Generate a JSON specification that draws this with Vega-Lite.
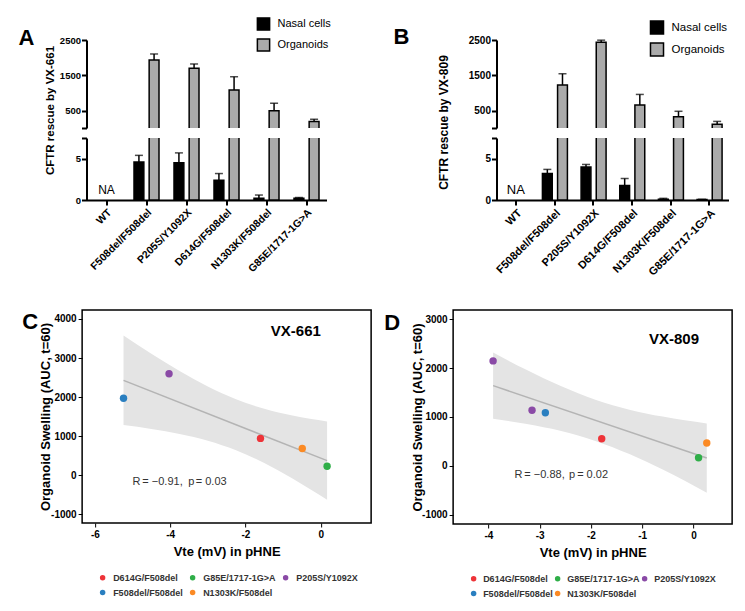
{
  "$schema": "https://vega.github.io/schema/vega-lite/v6.json",
  "background": "white",
  "padding": {"left": 18, "top": 17, "right": 5, "bottom": 5},
  "config": {
    "font": "Liberation Sans",
    "view": {"stroke": null},
    "axis": {"grid": false, "labelColor": "black", "titleColor": "black", "domainColor": "black", "tickColor": "black", "labelOverlap": false, "tickCount": 20}
  },
  "datasets": {
    "barsA": [
      {"genotype": "WT", "group": "Nasal cells", "value": null, "hi": null, "note": "NA"},
      {"genotype": "WT", "group": "Organoids", "value": null, "hi": null},
      {"genotype": "F508del/F508del", "group": "Nasal cells", "value": 4.6, "hi": 5.4},
      {"genotype": "F508del/F508del", "group": "Organoids", "value": 1937, "hi": 2106},
      {"genotype": "P205S/Y1092X", "group": "Nasal cells", "value": 4.5, "hi": 5.7},
      {"genotype": "P205S/Y1092X", "group": "Organoids", "value": 1702, "hi": 1824},
      {"genotype": "D614G/F508del", "group": "Nasal cells", "value": 2.4, "hi": 3.2},
      {"genotype": "D614G/F508del", "group": "Organoids", "value": 1092, "hi": 1465},
      {"genotype": "N1303K/F508del", "group": "Nasal cells", "value": 0.2, "hi": 0.6},
      {"genotype": "N1303K/F508del", "group": "Organoids", "value": 509, "hi": 718},
      {"genotype": "G85E/1717-1G>A", "group": "Nasal cells", "value": 0.2, "hi": 0.3},
      {"genotype": "G85E/1717-1G>A", "group": "Organoids", "value": 200, "hi": 266}
    ],
    "barsB": [
      {"genotype": "WT", "group": "Nasal cells", "value": null, "hi": null, "note": "NA"},
      {"genotype": "WT", "group": "Organoids", "value": null, "hi": null},
      {"genotype": "F508del/F508del", "group": "Nasal cells", "value": 3.2, "hi": 3.7},
      {"genotype": "F508del/F508del", "group": "Organoids", "value": 1234, "hi": 1549},
      {"genotype": "P205S/Y1092X", "group": "Nasal cells", "value": 4.0, "hi": 4.3},
      {"genotype": "P205S/Y1092X", "group": "Organoids", "value": 2434, "hi": 2495},
      {"genotype": "D614G/F508del", "group": "Nasal cells", "value": 1.76, "hi": 2.6},
      {"genotype": "D614G/F508del", "group": "Organoids", "value": 671, "hi": 966},
      {"genotype": "N1303K/F508del", "group": "Nasal cells", "value": 0.1, "hi": 0.2},
      {"genotype": "N1303K/F508del", "group": "Organoids", "value": 337, "hi": 491},
      {"genotype": "G85E/1717-1G>A", "group": "Nasal cells", "value": 0.05, "hi": 0.08},
      {"genotype": "G85E/1717-1G>A", "group": "Organoids", "value": 129, "hi": 206}
    ],
    "ptsC": [
      {"genotype": "F508del/F508del", "vte": -5.24, "swelling": 1970},
      {"genotype": "P205S/Y1092X", "vte": -4.03, "swelling": 2600},
      {"genotype": "D614G/F508del", "vte": -1.6, "swelling": 945},
      {"genotype": "N1303K/F508del", "vte": -0.49, "swelling": 685},
      {"genotype": "G85E/1717-1G>A", "vte": 0.17, "swelling": 230}
    ],
    "ptsD": [
      {"genotype": "P205S/Y1092X", "vte": -3.91, "swelling": 2148},
      {"genotype": "P205S/Y1092X", "vte": -3.15, "swelling": 1136},
      {"genotype": "F508del/F508del", "vte": -2.89, "swelling": 1087},
      {"genotype": "D614G/F508del", "vte": -1.79, "swelling": 554},
      {"genotype": "G85E/1717-1G>A", "vte": 0.1, "swelling": 164},
      {"genotype": "N1303K/F508del", "vte": 0.26, "swelling": 466}
    ],
    "fitC": [{"vte": -5.24, "swelling": 2430}, {"vte": 0.17, "swelling": 375}],
    "fitD": [{"vte": -3.91, "swelling": 1642}, {"vte": 0.26, "swelling": 158}],
    "bandC": [
      {"vte": -5.24, "lo": 1285, "hi": 3575},
      {"vte": -4.5, "lo": 1186, "hi": 3112},
      {"vte": -3.75, "lo": 1058, "hi": 2670},
      {"vte": -3.0, "lo": 885, "hi": 2273},
      {"vte": -2.25, "lo": 641, "hi": 1947},
      {"vte": -1.5, "lo": 315, "hi": 1703},
      {"vte": -0.75, "lo": -82, "hi": 1530},
      {"vte": 0.17, "lo": -628, "hi": 1378}
    ],
    "bandD": [
      {"vte": -3.91, "lo": 963, "hi": 2321},
      {"vte": -3.25, "lo": 854, "hi": 1960},
      {"vte": -2.6, "lo": 715, "hi": 1637},
      {"vte": -1.9, "lo": 504, "hi": 1348},
      {"vte": -1.25, "lo": 240, "hi": 1150},
      {"vte": -0.6, "lo": -79, "hi": 1007},
      {"vte": 0.26, "lo": -552, "hi": 868}
    ],
    "labelsC": [
      {"vte": -0.66, "swelling": 3685, "label": "VX-661"},
      {"vte": -5.0, "swelling": -180, "label": "R"},
      {"vte": -4.74, "swelling": -180, "label": "= −0.91,"},
      {"vte": -3.52, "swelling": -180, "label": "p"},
      {"vte": -3.32, "swelling": -180, "label": "= 0.03"}
    ],
    "labelsD": [
      {"vte": -0.38, "swelling": 2599, "label": "VX-809"},
      {"vte": -3.49, "swelling": -191, "label": "R"},
      {"vte": -3.3, "swelling": -191, "label": "= −0.88,"},
      {"vte": -2.43, "swelling": -191, "label": "p"},
      {"vte": -2.27, "swelling": -191, "label": "= 0.02"}
    ]
  },
  "vconcat": [
    {
      "hconcat": [
        {
          "data": {"name": "barsA"},
          "spacing": 10,
          "bounds": "flush",
          "resolve": {"legend": {"color": "independent"}},
          "vconcat": [
            {
              "title": {"text": "A", "anchor": "start", "frame": "group", "fontSize": 22, "fontWeight": "bold", "dx": -68, "dy": 37},
              "width": 240,
              "height": 88,
              "transform": [{"filter": "datum.group == 'Organoids'"}],
              "encoding": {
                "x": {"field": "genotype", "type": "nominal", "axis": null,
                  "scale": {"domain": ["WT", "F508del/F508del", "P205S/Y1092X", "D614G/F508del", "N1303K/F508del", "G85E/1717-1G>A"], "paddingInner": 0.375, "paddingOuter": 0.1875}},
                "xOffset": {"field": "group", "scale": {"domain": ["Nasal cells", "Organoids"], "paddingInner": 0.35}}
              },
              "layer": [
                {
                  "mark": {"type": "bar", "clip": true, "stroke": "black", "strokeWidth": 1.5},
                  "encoding": {
                    "y": {"field": "value", "type": "quantitative",
                      "scale": {"domain": [20, 2500], "nice": false, "zero": false},
                      "axis": {"title": "CFTR rescue by VX-661", "titleFontSize": 11.5, "titleFontWeight": "bold", "titleX": -31, "titleY": 70,
                        "values": [20, 500, 1500, 2500], "tickCount": 10, "format": "d", "labelExpr": "datum.value < 100 ? '' : datum.label",
                        "labelFontSize": 9.5, "labelFontWeight": "bold", "labelPadding": 1, "domainWidth": 2, "tickWidth": 2, "tickSize": 5}},
                    "y2": {"datum": 0},
                    "color": {"field": "group", "type": "nominal",
                      "scale": {"domain": ["Nasal cells", "Organoids"], "range": ["black", "#aaaaaa"]},
                      "legend": {"orient": "none", "legendX": 170, "legendY": -23, "title": null, "symbolType": "square", "symbolSize": 150,
                        "symbolStrokeColor": "black", "symbolStrokeWidth": 1.5, "labelFontSize": 11, "labelColor": "black", "rowPadding": 1, "labelOffset": 7}}
                  }
                },
                {
                  "mark": {"type": "rule", "color": "black", "strokeWidth": 1.5},
                  "encoding": {"y": {"field": "value", "type": "quantitative"}, "y2": {"field": "hi"}}
                },
                {
                  "mark": {"type": "tick", "color": "black", "thickness": 1.5, "size": 8},
                  "encoding": {"y": {"field": "hi", "type": "quantitative"}}
                }
              ]
            },
            {
              "width": 240,
              "height": 62,
              "encoding": {
                "x": {"field": "genotype", "type": "nominal",
                  "scale": {"domain": ["WT", "F508del/F508del", "P205S/Y1092X", "D614G/F508del", "N1303K/F508del", "G85E/1717-1G>A"], "paddingInner": 0.375, "paddingOuter": 0.1875},
                  "axis": {"title": null, "labelAngle": -45, "labelFontSize": 10.5, "labelFontWeight": "bold", "labelPadding": 2, "domainWidth": 2, "tickWidth": 2, "tickSize": 5}}
              },
              "layer": [
                {
                  "mark": {"type": "bar", "clip": true, "stroke": "black", "strokeWidth": 1.5},
                  "encoding": {
                    "xOffset": {"field": "group", "scale": {"domain": ["Nasal cells", "Organoids"], "paddingInner": 0.35}},
                    "y": {"field": "value", "type": "quantitative",
                      "scale": {"domain": [0, 7.5], "nice": false},
                      "axis": {"title": null, "values": [0, 5, 7.5], "tickCount": 10, "labelExpr": "datum.value == 7.5 ? '' : datum.label",
                        "labelFontSize": 9.5, "labelFontWeight": "bold", "labelPadding": 1, "domainWidth": 2, "tickWidth": 2, "tickSize": 5}},
                    "color": {"field": "group", "type": "nominal", "scale": {"domain": ["Nasal cells", "Organoids"], "range": ["black", "#aaaaaa"]}, "legend": null}
                  }
                },
                {
                  "transform": [{"filter": "datum.group == 'Nasal cells'"}],
                  "mark": {"type": "rule", "color": "black", "strokeWidth": 1.5},
                  "encoding": {
                    "xOffset": {"field": "group", "scale": {"domain": ["Nasal cells", "Organoids"], "paddingInner": 0.35}},
                    "y": {"field": "value", "type": "quantitative"}, "y2": {"field": "hi"}}
                },
                {
                  "transform": [{"filter": "datum.group == 'Nasal cells'"}],
                  "mark": {"type": "tick", "color": "black", "thickness": 1.5, "size": 8},
                  "encoding": {
                    "xOffset": {"field": "group", "scale": {"domain": ["Nasal cells", "Organoids"], "paddingInner": 0.35}},
                    "y": {"field": "hi", "type": "quantitative"}}
                },
                {
                  "transform": [{"filter": "datum.note"}],
                  "mark": {"type": "text", "fontSize": 12, "baseline": "bottom", "dy": -3, "color": "black"},
                  "encoding": {"y": {"datum": 0}, "text": {"field": "note"}}
                }
              ]
            }
          ]
        },
        {
          "data": {"name": "barsB"},
          "spacing": 10,
          "bounds": "flush",
          "resolve": {"legend": {"color": "independent"}},
          "vconcat": [
            {
              "title": {"text": "B", "anchor": "start", "frame": "group", "fontSize": 22, "fontWeight": "bold", "dx": -103, "dy": 33},
              "width": 232,
              "height": 88,
              "transform": [{"filter": "datum.group == 'Organoids'"}],
              "encoding": {
                "x": {"field": "genotype", "type": "nominal", "axis": null,
                  "scale": {"domain": ["WT", "F508del/F508del", "P205S/Y1092X", "D614G/F508del", "N1303K/F508del", "G85E/1717-1G>A"], "paddingInner": 0.375, "paddingOuter": 0.1875}},
                "xOffset": {"field": "group", "scale": {"domain": ["Nasal cells", "Organoids"], "paddingInner": 0.35}}
              },
              "layer": [
                {
                  "mark": {"type": "bar", "clip": true, "stroke": "black", "strokeWidth": 1.5},
                  "encoding": {
                    "y": {"field": "value", "type": "quantitative",
                      "scale": {"domain": [20, 2500], "nice": false, "zero": false},
                      "axis": {"title": "CFTR rescue by VX-809", "titleFontSize": 12, "titleFontWeight": "bold", "titleX": -46, "titleY": 82,
                        "values": [20, 500, 1500, 2500], "tickCount": 10, "format": "d", "labelExpr": "datum.value < 100 ? '' : datum.label",
                        "labelFontSize": 10, "labelFontWeight": "bold", "labelPadding": 1, "domainWidth": 2, "tickWidth": 2, "tickSize": 5}},
                    "y2": {"datum": 0},
                    "color": {"field": "group", "type": "nominal",
                      "scale": {"domain": ["Nasal cells", "Organoids"], "range": ["black", "#aaaaaa"]},
                      "legend": {"orient": "none", "legendX": 153, "legendY": -20, "title": null, "symbolType": "square", "symbolSize": 170,
                        "symbolStrokeColor": "black", "symbolStrokeWidth": 1.5, "labelFontSize": 11.5, "labelColor": "black", "rowPadding": 1, "labelOffset": 7}}
                  }
                },
                {
                  "mark": {"type": "rule", "color": "black", "strokeWidth": 1.5},
                  "encoding": {"y": {"field": "value", "type": "quantitative"}, "y2": {"field": "hi"}}
                },
                {
                  "mark": {"type": "tick", "color": "black", "thickness": 1.5, "size": 8},
                  "encoding": {"y": {"field": "hi", "type": "quantitative"}}
                }
              ]
            },
            {
              "width": 232,
              "height": 62,
              "encoding": {
                "x": {"field": "genotype", "type": "nominal",
                  "scale": {"domain": ["WT", "F508del/F508del", "P205S/Y1092X", "D614G/F508del", "N1303K/F508del", "G85E/1717-1G>A"], "paddingInner": 0.375, "paddingOuter": 0.1875},
                  "axis": {"title": null, "labelAngle": -45, "labelFontSize": 11, "labelFontWeight": "bold", "labelPadding": 2, "domainWidth": 2, "tickWidth": 2, "tickSize": 5}}
              },
              "layer": [
                {
                  "mark": {"type": "bar", "clip": true, "stroke": "black", "strokeWidth": 1.5},
                  "encoding": {
                    "xOffset": {"field": "group", "scale": {"domain": ["Nasal cells", "Organoids"], "paddingInner": 0.35}},
                    "y": {"field": "value", "type": "quantitative",
                      "scale": {"domain": [0, 7.5], "nice": false},
                      "axis": {"title": null, "values": [0, 5, 7.5], "tickCount": 10, "labelExpr": "datum.value == 7.5 ? '' : datum.label",
                        "labelFontSize": 10, "labelFontWeight": "bold", "labelPadding": 1, "domainWidth": 2, "tickWidth": 2, "tickSize": 5}},
                    "color": {"field": "group", "type": "nominal", "scale": {"domain": ["Nasal cells", "Organoids"], "range": ["black", "#aaaaaa"]}, "legend": null}
                  }
                },
                {
                  "transform": [{"filter": "datum.group == 'Nasal cells'"}],
                  "mark": {"type": "rule", "color": "black", "strokeWidth": 1.5},
                  "encoding": {
                    "xOffset": {"field": "group", "scale": {"domain": ["Nasal cells", "Organoids"], "paddingInner": 0.35}},
                    "y": {"field": "value", "type": "quantitative"}, "y2": {"field": "hi"}}
                },
                {
                  "transform": [{"filter": "datum.group == 'Nasal cells'"}],
                  "mark": {"type": "tick", "color": "black", "thickness": 1.5, "size": 8},
                  "encoding": {
                    "xOffset": {"field": "group", "scale": {"domain": ["Nasal cells", "Organoids"], "paddingInner": 0.35}},
                    "y": {"field": "hi", "type": "quantitative"}}
                },
                {
                  "transform": [{"filter": "datum.note"}],
                  "mark": {"type": "text", "fontSize": 13, "baseline": "bottom", "dy": -3, "color": "black"},
                  "encoding": {"y": {"datum": 0}, "text": {"field": "note"}}
                }
              ]
            }
          ]
        }
      ],
      "spacing": 62,
      "resolve": {"legend": {"color": "independent"}}
    },
    {
      "hconcat": [
        {
          "title": {"text": "C", "anchor": "start", "frame": "group", "fontSize": 22, "fontWeight": "bold", "dx": -60, "dy": 28},
          "width": 289,
          "height": 213,
          "view": {"stroke": "black", "strokeWidth": 1.5},
          "encoding": {
            "x": {"field": "vte", "type": "quantitative",
              "scale": {"domain": [-6.34, 1.34], "nice": false, "zero": false},
              "axis": {"title": "Vte (mV) in pHNE", "values": [-6, -4, -2, 0], "format": "d", "labelExpr": "replace(datum.label, '−', '-')", "domain": false,
                "tickSize": 4, "labelFontSize": 10, "labelFontWeight": "bold", "titleFontSize": 13, "titleFontWeight": "bold", "titlePadding": 6}},
            "y": {"field": "swelling", "type": "quantitative",
              "scale": {"domain": [-1220, 4230], "nice": false, "zero": false},
              "axis": {"title": "Organoid Swelling (AUC, t=60)", "titleX": -30, "values": [-1000, 0, 1000, 2000, 3000, 4000], "format": "d", "labelExpr": "replace(datum.label, '−', '-')", "domain": false,
                "tickSize": 4, "labelFontSize": 10, "labelFontWeight": "bold", "titleFontSize": 13, "titleFontWeight": "bold"}}
          },
          "layer": [
            {
              "data": {"name": "bandC"},
              "mark": {"type": "area", "color": "#e4e4e4", "interpolate": "monotone"},
              "encoding": {"y": {"field": "lo", "type": "quantitative"}, "y2": {"field": "hi"}}
            },
            {
              "data": {"name": "fitC"},
              "mark": {"type": "line", "color": "#b4b4b4", "strokeWidth": 1.5},
              "encoding": {}
            },
            {
              "data": {"name": "ptsC"},
              "mark": {"type": "circle", "size": 55, "opacity": 1},
              "encoding": {
                "color": {"field": "genotype", "type": "nominal",
                  "scale": {"domain": ["D614G/F508del", "G85E/1717-1G>A", "P205S/Y1092X", "F508del/F508del", "N1303K/F508del"],
                    "range": ["#ee3338", "#2fae48", "#8a4aa6", "#2a7fc0", "#fb8a24"]},
                  "legend": {"orient": "none", "legendX": 16, "legendY": 263, "title": null, "columns": 3, "direction": "horizontal",
                    "symbolType": "circle", "symbolSize": 30, "labelFontSize": 9, "labelFontWeight": "bold", "labelColor": "#333333",
                    "columnPadding": 5, "rowPadding": 5, "labelOffset": 6}}
              }
            },
            {
              "data": {"name": "labelsC"},
              "transform": [{"filter": "datum.label == 'VX-661'"}],
              "mark": {"type": "text", "fontSize": 15, "fontWeight": "bold", "color": "black"},
              "encoding": {"text": {"field": "label"}}
            },
            {
              "data": {"name": "labelsC"},
              "transform": [{"filter": "datum.label != 'VX-661'"}],
              "mark": {"type": "text", "fontSize": 11, "align": "left", "color": "#333333"},
              "encoding": {
                "text": {"field": "label"},
                "fontStyle": {"condition": {"test": "datum.label == 'R' || datum.label == 'p'", "value": "italic"}, "value": "normal"}
              }
            }
          ]
        },
        {
          "title": {"text": "D", "anchor": "start", "frame": "group", "fontSize": 22, "fontWeight": "bold", "dx": -69, "dy": 29},
          "width": 279,
          "height": 214,
          "view": {"stroke": "black", "strokeWidth": 1.5},
          "encoding": {
            "x": {"field": "vte", "type": "quantitative",
              "scale": {"domain": [-4.69, 0.755], "nice": false, "zero": false},
              "axis": {"title": "Vte (mV) in pHNE", "values": [-4, -3, -2, -1, 0], "format": "d", "labelExpr": "replace(datum.label, '−', '-')", "domain": false,
                "tickSize": 4, "labelFontSize": 10, "labelFontWeight": "bold", "titleFontSize": 13, "titleFontWeight": "bold", "titlePadding": 6}},
            "y": {"field": "swelling", "type": "quantitative",
              "scale": {"domain": [-1193, 3191], "nice": false, "zero": false},
              "axis": {"title": "Organoid Swelling (AUC, t=60)", "titleX": -29, "values": [-1000, 0, 1000, 2000, 3000], "format": "d", "labelExpr": "replace(datum.label, '−', '-')", "domain": false,
                "tickSize": 4, "labelFontSize": 10, "labelFontWeight": "bold", "titleFontSize": 13, "titleFontWeight": "bold"}}
          },
          "layer": [
            {
              "data": {"name": "bandD"},
              "mark": {"type": "area", "color": "#e4e4e4", "interpolate": "monotone"},
              "encoding": {"y": {"field": "lo", "type": "quantitative"}, "y2": {"field": "hi"}}
            },
            {
              "data": {"name": "fitD"},
              "mark": {"type": "line", "color": "#b4b4b4", "strokeWidth": 1.5},
              "encoding": {}
            },
            {
              "data": {"name": "ptsD"},
              "mark": {"type": "circle", "size": 55, "opacity": 1},
              "encoding": {
                "color": {"field": "genotype", "type": "nominal",
                  "scale": {"domain": ["D614G/F508del", "G85E/1717-1G>A", "P205S/Y1092X", "F508del/F508del", "N1303K/F508del"],
                    "range": ["#ee3338", "#2fae48", "#8a4aa6", "#2a7fc0", "#fb8a24"]},
                  "legend": {"orient": "none", "legendX": 16, "legendY": 264, "title": null, "columns": 3, "direction": "horizontal",
                    "symbolType": "circle", "symbolSize": 30, "labelFontSize": 9, "labelFontWeight": "bold", "labelColor": "#333333",
                    "columnPadding": 0, "rowPadding": 5, "labelOffset": 5}}
              }
            },
            {
              "data": {"name": "labelsD"},
              "transform": [{"filter": "datum.label == 'VX-809'"}],
              "mark": {"type": "text", "fontSize": 15, "fontWeight": "bold", "color": "black"},
              "encoding": {"text": {"field": "label"}}
            },
            {
              "data": {"name": "labelsD"},
              "transform": [{"filter": "datum.label != 'VX-809'"}],
              "mark": {"type": "text", "fontSize": 11, "align": "left", "color": "#333333"},
              "encoding": {
                "text": {"field": "label"},
                "fontStyle": {"condition": {"test": "datum.label == 'R' || datum.label == 'p'", "value": "italic"}, "value": "normal"}
              }
            }
          ]
        }
      ],
      "spacing": 11,
      "resolve": {"legend": {"color": "independent"}}
    }
  ],
  "spacing": 31,
  "center": true,
  "resolve": {"scale": {"color": "independent"}, "legend": {"color": "independent"}}
}
